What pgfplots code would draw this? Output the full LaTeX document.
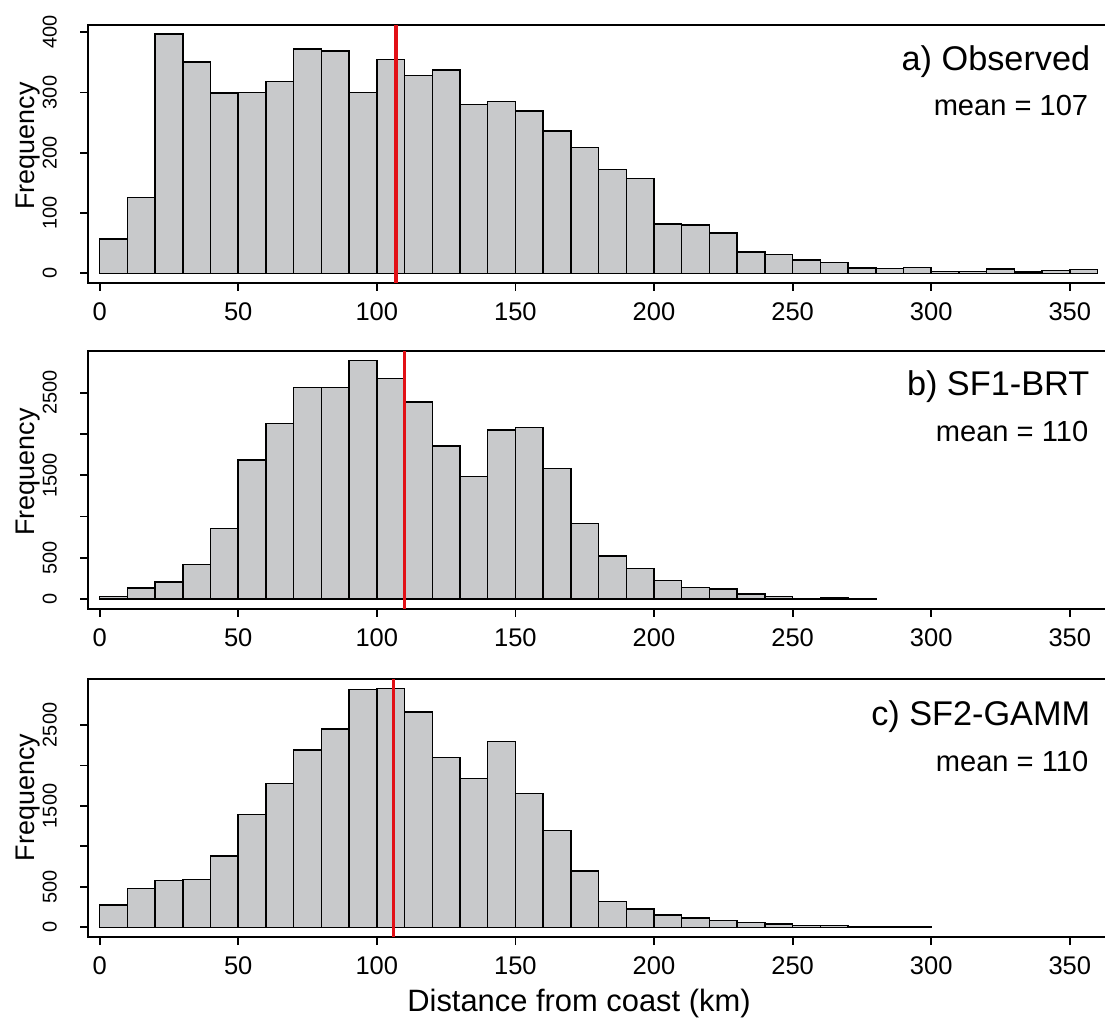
\documentclass[border=0pt]{standalone}
\usepackage{fontspec}
\setmainfont{Liberation Sans}
\usepackage{pgfplots}
\usepackage{pgfplotstable}
\pgfplotsset{compat=1.18}
\definecolor{histgray}{RGB}{200,201,203}
\definecolor{meanred}{RGB}{226,16,22}

\pgfplotstableread{
x y
0 57
10 126
20 397
30 351
40 299
50 300
60 318
70 372
80 369
90 300
100 355
110 328
120 337
130 280
140 285
150 269
160 236
170 209
180 172
190 157
200 82
210 80
220 67
230 35
240 31
250 22
260 18
270 9
280 8
290 10
300 3
310 3
320 7
330 2
340 5
350 6
360 0
}\tabA

\pgfplotstableread{
x y
0 28
10 133
20 206
30 416
40 856
50 1684
60 2124
70 2561
80 2561
90 2892
100 2674
110 2387
120 1854
130 1486
140 2048
150 2080
160 1583
170 917
180 521
190 372
200 226
210 137
220 121
230 61
240 28
250 8
260 12
270 4
280 0
}\tabB

\pgfplotstableread{
x y
0 276
10 482
20 581
30 590
40 881
50 1396
60 1779
70 2191
80 2451
90 2941
100 2953
110 2661
120 2096
130 1837
140 2298
150 1656
160 1194
170 696
180 317
190 226
200 152
210 115
220 86
230 62
240 41
250 25
260 21
270 8
280 12
290 4
300 0
}\tabC

\pgfplotsset{
  histaxis/.style={
    scale only axis, width=515.7bp, xmin=-4.08, xmax=368,
    anchor=south west,
    axis line style={line width=1bp},
    tick pos=left, tick align=outside, major tick length=4bp,
    every tick/.style={black, line width=0.9bp},
    minor tick num=0,
    xtick={0,50,...,350},
    scaled ticks=false,
    /pgf/number format/assume math mode=true,
    xticklabel style={font=\fontsize{12.8}{15}\selectfont, anchor=base, yshift=-14.65bp},
    yticklabel style={font=\fontsize{10}{12}\selectfont, xshift=-11.8bp, rotate=90, anchor=base},
  },
  histbars/.style={ybar interval, fill=histgray, draw=black, line width=0.75bp},
  meanline/.style={meanred, line width=1.8bp},
}

\begin{document}
\begin{tikzpicture}
% panel a
\begin{axis}[histaxis, at={(44.15bp,-141.35bp)}, height=128.85bp,
  ymin=-15.6, ymax=412, ytick={0,100,200,300,400}]
\addplot[histbars] table[x=x,y=y] {\tabA};
\addplot[meanline] coordinates {(107,-15.6) (107,412)};
\end{axis}
% panel b
\begin{axis}[histaxis, at={(44.15bp,-304.35bp)}, height=128.85bp,
  ymin=-117.5, ymax=3005, ytick={0,500,1000,1500,2000,2500},
  yticklabels={0,500,,1500,,2500}]
\addplot[histbars] table[x=x,y=y] {\tabB};
\addplot[meanline] coordinates {(110,-117.5) (110,3005)};
\end{axis}
% panel c
\begin{axis}[histaxis, at={(44.15bp,-468.5bp)}, height=129bp,
  ymin=-119.5, ymax=3068, ytick={0,500,1000,1500,2000,2500},
  yticklabels={0,500,,1500,,2500}]
\addplot[histbars] table[x=x,y=y] {\tabC};
\addplot[meanline] coordinates {(106,-119.5) (106,3068)};
\end{axis}

% panel texts
\node[anchor=base east, font=\fontsize{17.2}{20}\selectfont, inner sep=0pt] at (545.3bp,-35.35bp) {a) Observed};
\node[anchor=base east, font=\fontsize{14.6}{17}\selectfont, inner sep=0pt] at (544.3bp,-57.5bp) {mean = 107};
\node[anchor=base east, font=\fontsize{17.2}{20}\selectfont, inner sep=0pt] at (544.8bp,-197.5bp) {b) SF1-BRT};
\node[anchor=base east, font=\fontsize{14.6}{17}\selectfont, inner sep=0pt] at (544.3bp,-220.85bp) {mean = 110};
\node[anchor=base east, font=\fontsize{17.2}{20}\selectfont, inner sep=0pt] at (545.3bp,-362.5bp) {c) SF2-GAMM};
\node[anchor=base east, font=\fontsize{14.6}{17}\selectfont, inner sep=0pt] at (544.3bp,-385.85bp) {mean = 110};

% y labels
\node[rotate=90, anchor=base, font=\fontsize{13.5}{16}\selectfont, inner sep=0pt] at (17bp,-73bp) {Frequency};
\node[rotate=90, anchor=base, font=\fontsize{13.5}{16}\selectfont, inner sep=0pt] at (17bp,-236bp) {Frequency};
\node[rotate=90, anchor=base, font=\fontsize{13.5}{16}\selectfont, inner sep=0pt] at (17bp,-398.75bp) {Frequency};
% x label
\node[anchor=base, font=\fontsize{15.5}{18}\selectfont, inner sep=0pt] at (289.5bp,-505.85bp) {Distance from coast (km)};

\pgfresetboundingbox
\path[use as bounding box] (0bp,0bp) rectangle (552.5bp,-510.5bp);
\end{tikzpicture}
\end{document}
